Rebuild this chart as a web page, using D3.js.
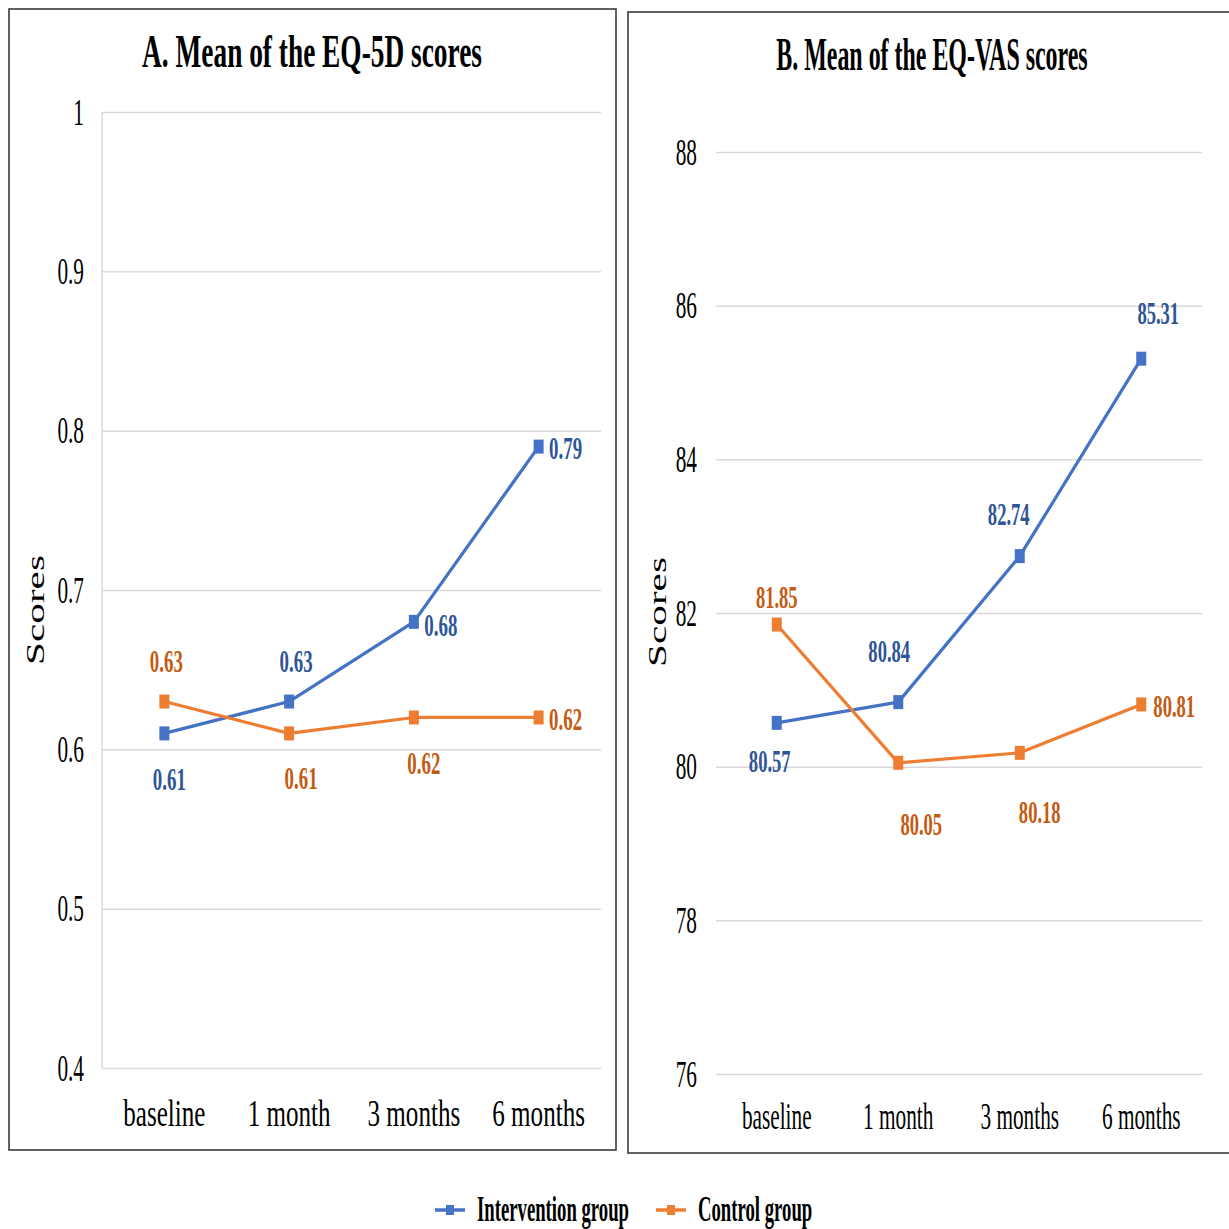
<!DOCTYPE html>
<html>
<head>
<meta charset="utf-8">
<script src="https://cdn.jsdelivr.net/npm/d3@7"></script>
<style>
  html, body { margin: 0; padding: 0; background: #fff; }
  svg { display: block; }
  text { font-family: "Liberation Serif", "Times New Roman", serif; }
</style>
</head>
<body>
<svg id="chart" width="1229" height="1229"></svg>
<script>
// ---- data ----
const timepoints = ["baseline", "1 month", "3 months", "6 months"];

const eq5dIntervention = [0.61, 0.63, 0.68, 0.79];
const eq5dControl      = [0.63, 0.61, 0.62, 0.62];
const eq5dTicks        = [0.4, 0.5, 0.6, 0.7, 0.8, 0.9, 1];
const eq5dTickLabels   = ["0.4", "0.5", "0.6", "0.7", "0.8", "0.9", "1"];

const vasIntervention  = [80.57, 80.84, 82.74, 85.31];
const vasControl       = [81.85, 80.05, 80.18, 80.81];
const vasTicks         = [76, 78, 80, 82, 84, 86, 88];
const vasTickLabels    = ["76", "78", "80", "82", "84", "86", "88"];

const seriesNames = ["Intervention group", "Control group"];

// ---- label placement (pixel offsets from each marker to label centre) ----
const eq5dInterventionOffsets = [[5, 45], [7, -41], [27, 3], [27, 1]];
const eq5dControlOffsets      = [[2, -41], [12, 44], [10, 45], [27, 1]];
const vasInterventionOffsets  = [[-7, 38], [-9, -51], [-11, -42], [17, -46]];
const vasControlOffsets       = [[0, -28], [23, 61], [20, 59], [33, 1]];

// ---- styling ----
const lineColors  = ["#4472C4", "#ED7D31"];
const labelColors = ["#2F5597", "#C55A11"];
const SQ = 0.56;          // horizontal squeeze applied to the serif text

const svg = d3.select("#chart");

// text helper: horizontally condensed serif text
function squeezed(parent, x, y, str, opts) {
  const s = opts.s || SQ;
  return parent.append("text")
    .attr("x", x / s)
    .attr("y", y)
    .attr("transform", `scale(${s},1)`)
    .attr("text-anchor", opts.anchor || "middle")
    .attr("font-size", opts.size)
    .attr("font-weight", opts.weight || "normal")
    .attr("fill", opts.fill || "#000")
    .text(str);
}

function drawPanel(cfg) {
  const g = svg.append("g");

  // outer frame
  g.append("rect")
    .attr("x", cfg.frame[0]).attr("y", cfg.frame[1])
    .attr("width", cfg.frame[2]).attr("height", cfg.frame[3])
    .attr("fill", "none").attr("stroke", "#3a3a3a").attr("stroke-width", 1.6);

  const x = d3.scaleBand().domain(timepoints).range([cfg.left, cfg.right]);
  const y = d3.scaleLinear().domain(cfg.domain).range([cfg.bottom, cfg.top]);
  const cx = d => x(d) + x.bandwidth() / 2;

  // gridlines
  const grid = g.append("g")
    .attr("transform", `translate(${cfg.left},0)`)
    .call(d3.axisLeft(y).tickValues(cfg.ticks).tickSize(-(cfg.right - cfg.left)).tickFormat(""));
  grid.select(".domain").remove();
  grid.selectAll(".tick line").attr("stroke", "#d9d9d9").attr("stroke-width", 1.5);

  if (cfg.axisLine) {
    g.append("line")
      .attr("x1", cfg.left).attr("x2", cfg.left)
      .attr("y1", y(cfg.domain[1])).attr("y2", y(cfg.domain[0]))
      .attr("stroke", "#d9d9d9").attr("stroke-width", 1.5);
  }

  // y tick labels
  const yAxis = g.append("g")
    .attr("transform", `translate(${cfg.left},0)`)
    .call(d3.axisLeft(y).tickValues(cfg.ticks).tickSize(0).tickPadding(cfg.yPad)
      .tickFormat((d, i) => cfg.tickLabels[i]));
  yAxis.select(".domain").remove();
  yAxis.selectAll(".tick text")
    .attr("font-family", "Liberation Serif, Times New Roman, serif")
    .attr("font-size", 38).attr("fill", "#000")
    .each(function () {
      const t = d3.select(this);
      t.attr("x", (+t.attr("x")) / SQ).attr("transform", `scale(${SQ},1)`);
    });

  // x category labels
  const xAxis = g.append("g")
    .attr("transform", `translate(0,${cfg.xLabelY})`)
    .call(d3.axisBottom(x).tickSize(0).tickPadding(0));
  xAxis.select(".domain").remove();
  xAxis.selectAll(".tick text")
    .attr("font-family", "Liberation Serif, Times New Roman, serif")
    .attr("font-size", 38).attr("fill", "#000").attr("dy", 0).attr("y", 0)
    .attr("transform", `scale(${cfg.xLabelSq},1)`)
    .each(function () { d3.select(this).attr("x", 0); });
  xAxis.selectAll(".tick").each(function (d) {
    d3.select(this).attr("transform", `translate(${cx(d)},0)`);
  });

  // title
  squeezed(g, cfg.titleX, cfg.titleY, cfg.title, { size: 46, weight: "bold", s: cfg.titleSq });

  // y axis title (rotated, stretched along its length)
  g.append("text")
    .attr("transform", `translate(${cfg.yTitle[0]},${cfg.yTitle[1]}) rotate(-90) scale(1.65,1)`)
    .attr("text-anchor", "middle")
    .attr("font-size", 25)
    .attr("fill", "#000")
    .text("Scores");

  // series
  const line = d3.line().x((d, i) => cx(timepoints[i])).y(d => y(d));
  cfg.series.forEach((vals, si) => {
    g.append("path")
      .datum(vals)
      .attr("d", line)
      .attr("fill", "none")
      .attr("stroke", lineColors[si])
      .attr("stroke-width", 3.2)
      .attr("stroke-linejoin", "round");
    g.selectAll(null).data(vals).enter().append("rect")
      .attr("x", (d, i) => cx(timepoints[i]) - 5)
      .attr("y", d => y(d) - 7)
      .attr("width", 10).attr("height", 14)
      .attr("fill", lineColors[si]);
    vals.forEach((v, i) => {
      const off = cfg.offsets[si][i];
      squeezed(g, cx(timepoints[i]) + off[0], y(v) + off[1], cfg.fmt(v),
        { size: 32, weight: "bold", fill: labelColors[si], s: cfg.labelSq })
        .attr("dy", "0.35em");
    });
  });
}

drawPanel({
  frame: [9, 9, 607, 1141],
  left: 102, right: 601, top: 112, bottom: 1068,
  domain: [0.4, 1], ticks: eq5dTicks, tickLabels: eq5dTickLabels,
  yPad: 18, axisLine: true,
  xLabelY: 1126, xLabelSq: 0.66,
  title: "A. Mean of the EQ-5D scores", titleX: 312, titleY: 67, titleSq: 0.595,
  labelSq: 0.59,
  yTitle: [44, 610],
  series: [eq5dIntervention, eq5dControl],
  offsets: [eq5dInterventionOffsets, eq5dControlOffsets],
  fmt: d3.format(".2f")
});

drawPanel({
  frame: [628, 12, 640, 1141],
  left: 716, right: 1202, top: 152, bottom: 1074,
  domain: [76, 88], ticks: vasTicks, tickLabels: vasTickLabels,
  yPad: 19, axisLine: false,
  xLabelY: 1129, xLabelSq: 0.56,
  title: "B. Mean of the EQ-VAS scores", titleX: 932, titleY: 70, titleSq: 0.52,
  labelSq: 0.58,
  yTitle: [666, 612],
  series: [vasIntervention, vasControl],
  offsets: [vasInterventionOffsets, vasControlOffsets],
  fmt: d3.format(".2f")
});

// ---- legend ----
const legend = svg.append("g");
const legendX = [435, 656];
seriesNames.forEach((name, i) => {
  const lg = legend.append("g").attr("transform", `translate(${legendX[i]},1210)`);
  lg.append("line").attr("x1", 0).attr("x2", 30).attr("y1", 0).attr("y2", 0)
    .attr("stroke", lineColors[i]).attr("stroke-width", 3.5);
  lg.append("rect").attr("x", 11).attr("y", -5).attr("width", 8).attr("height", 10)
    .attr("fill", lineColors[i]);
  squeezed(lg, 42, 11, name, { size: 36, weight: "bold", anchor: "start", s: 0.52 });
});
</script>
</body>
</html>
